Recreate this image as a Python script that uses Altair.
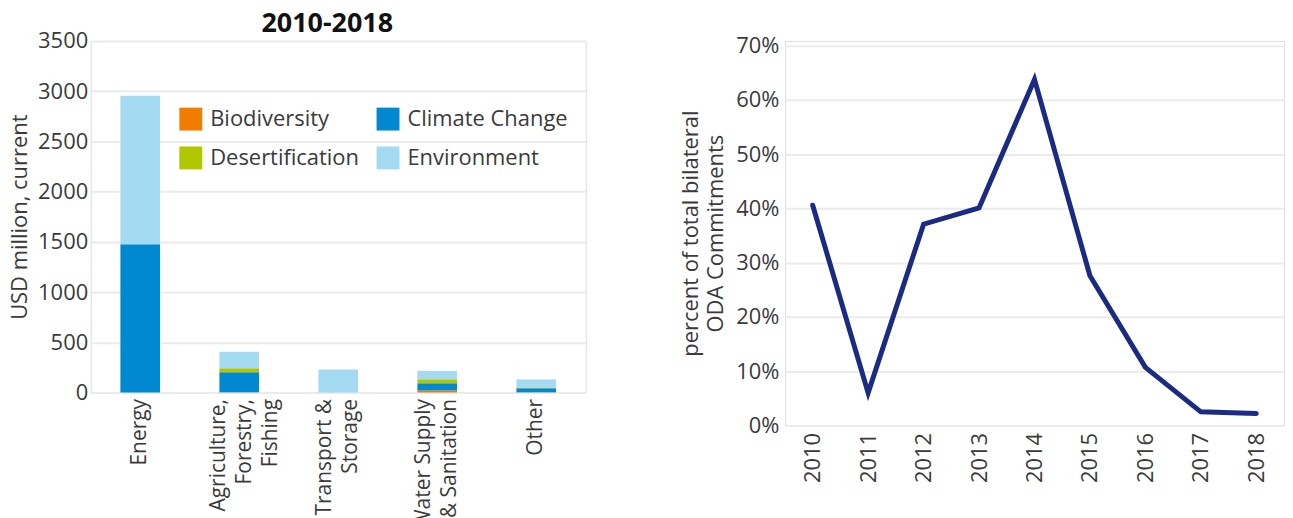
import altair as alt
import pandas as pd

# ---- Left chart data (USD million, current, 2010-2018) ----
sectors = ["Energy", "Agriculture, Forestry, Fishing", "Transport & Storage",
           "Water Supply & Sanitation", "Other"]
sector_lines = [["Energy"], ["Agriculture,", "Forestry,", "Fishing"],
                ["Transport &", "Storage"], ["Water Supply", "& Sanitation"], ["Other"]]
themes = ["Biodiversity", "Climate Change", "Desertification", "Environment"]
biodiversity = [0, 2, 0, 20, 3]
climate_change = [1477, 200, 0, 72, 40]
desertification = [0, 40, 0, 40, 8]
environment = [1476, 165, 228, 83, 78]
theme_colors = ["#F07D00", "#0089D1", "#B1C800", "#A4DAF2"]

# legend reading order (two columns, filled column by column)
legend_order = ["Biodiversity", "Desertification", "Climate Change", "Environment"]
legend_colors = [theme_colors[themes.index(t)] for t in legend_order]

# ---- Right chart data ----
years = ["2010", "2011", "2012", "2013", "2014", "2015", "2016", "2017", "2018"]
share = [0.406, 0.060, 0.371, 0.401, 0.638, 0.276, 0.107, 0.025, 0.022]

FONT = "Open Sans"
TXT = "#3a3a3a"
FS = 22
LH = 26

rows = []
series = [biodiversity, climate_change, desertification, environment]
for ti, (t, vals) in enumerate(zip(themes, series)):
    for s, v in zip(sectors, vals):
        rows.append({"sector": s, "theme": t, "value": v, "ord": ti})
bars_df = pd.DataFrame(rows)

label_expr = ""
for s, lines in zip(sectors, sector_lines):
    label_expr += "datum.label == %r ? %r : " % (s, lines)
label_expr += "datum.label"

three_line = [s for s, l in zip(sectors, sector_lines) if len(l) == 3]
two_line = [s for s, l in zip(sectors, sector_lines) if len(l) == 2]
label_offset = {
    "condition": [
        {"test": " || ".join("datum.value == %r" % s for s in three_line), "value": -20},
        {"test": " || ".join("datum.value == %r" % s for s in two_line), "value": -13},
    ],
    "value": 0,
}

left = alt.Chart(bars_df).mark_bar().encode(
    x=alt.X("sector:N", sort=sectors, title=None,
            scale=alt.Scale(paddingInner=0.6, paddingOuter=0.3),
            axis=alt.Axis(labelAngle=-90, labelAlign="right", labelBaseline="middle",
                          labelExpr=label_expr, labelFontSize=21, labelColor=TXT,
                          labelFont=FONT, ticks=False, domain=False, labelPadding=6,
                          labelLineHeight=LH, labelOffset=label_offset)),
    y=alt.Y("value:Q", title="USD million, current",
            scale=alt.Scale(domain=[0, 3500]),
            axis=alt.Axis(values=list(range(0, 3501, 500)), format="d",
                          labelFontSize=FS, labelColor=TXT, labelFont=FONT,
                          ticks=False, domain=False, labelPadding=3,
                          titleFontSize=FS, titleFont=FONT, titleColor=TXT,
                          titleFontWeight="normal", titlePadding=6,
                          gridColor="#EBEBEB", gridWidth=2)),
    color=alt.Color("theme:N", scale=alt.Scale(domain=legend_order, range=legend_colors),
                    legend=alt.Legend(title=None, orient="none", legendX=89, legendY=67,
                                      columns=2, symbolType="square", symbolSize=529,
                                      symbolStrokeWidth=0, labelFontSize=FS,
                                      labelFont=FONT, labelColor=TXT, labelOffset=8,
                                      rowPadding=16, columnPadding=17, padding=0,
                                      labelLimit=400)),
    order=alt.Order("ord:Q", sort="ascending"),
).properties(
    width=497, height=353,
    title=alt.TitleParams("2010-2018", fontSize=27, font=FONT, fontWeight="bold",
                          color="#111111", offset=-8, anchor="middle", dx=-11),
)

line_df = pd.DataFrame({"year": years, "share": share})
right = alt.Chart(line_df).mark_line(
    color="#1B2B82", strokeWidth=5, strokeCap="round", strokeJoin="miter"
).encode(
    x=alt.X("year:O", title=None, scale=alt.Scale(type="point", padding=0.5),
            axis=alt.Axis(labelAngle=-90, labelAlign="right", labelBaseline="middle",
                          labelFontSize=FS, labelColor=TXT, labelFont=FONT,
                          ticks=False, domain=False, labelPadding=7)),
    y=alt.Y("share:Q", title=["percent of total bilateral", "ODA Commitments"],
            scale=alt.Scale(domain=[0, 0.709]),
            axis=alt.Axis(values=[0, 0.1, 0.2, 0.3, 0.4, 0.5, 0.6, 0.7], format=".0%",
                          labelFontSize=FS, labelColor=TXT, labelFont=FONT,
                          ticks=False, domain=False, labelPadding=6,
                          titleFontSize=FS, titleFont=FONT, titleColor=TXT,
                          titleFontWeight="normal", titlePadding=8,
                          titleLineHeight=25, gridColor="#EBEBEB", gridWidth=2)),
).properties(
    width=501, height=386,
)

chart = alt.hconcat(left, right, spacing=93).properties(
    padding={"left": 0, "top": 0, "right": 0, "bottom": 0}
).configure_view(stroke=None).configure(background="white")

chart.save("out.html", embed_options={"renderer": "svg", "actions": False})
